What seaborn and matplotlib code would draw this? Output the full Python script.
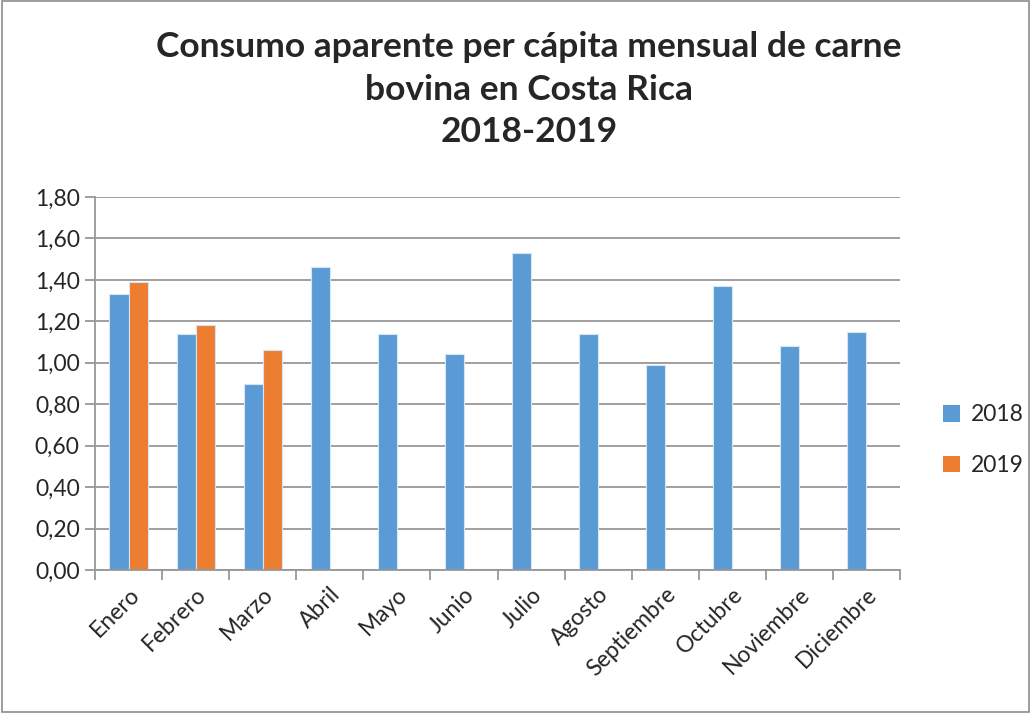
import matplotlib
matplotlib.use("Agg")
import matplotlib.pyplot as plt
from matplotlib.patches import Rectangle, Patch
from matplotlib.ticker import FuncFormatter, FixedLocator
import seaborn as sns
import pandas as pd

months = ["Enero", "Febrero", "Marzo", "Abril", "Mayo", "Junio", "Julio",
          "Agosto", "Septiembre", "Octubre", "Noviembre", "Diciembre"]
values_2018 = [1.33, 1.14, 0.90, 1.46, 1.14, 1.04, 1.53, 1.14, 0.99, 1.37, 1.08, 1.15]
values_2019 = [1.39, 1.18, 1.06]
years = ["2018", "2019"]
colors = ["#5B9BD5", "#ED7D31"]

rows = [{"Mes": m, "Año": "2018", "Valor": v} for m, v in zip(months, values_2018)]
rows += [{"Mes": m, "Año": "2019", "Valor": v} for m, v in zip(months, values_2019)]
df = pd.DataFrame(rows)

sns.set_style("white")
plt.rcParams["font.family"] = ["Lato", "DejaVu Sans"]

fig = plt.figure(figsize=(10.31, 7.13), dpi=100)
ax = fig.add_axes([95 / 1031, 1 - 570 / 713, 805 / 1031, 373 / 713])

sns.barplot(data=df, x="Mes", y="Valor", hue="Año", order=months,
            hue_order=years, palette=colors, width=0.57, ax=ax,
            edgecolor="#D6E4F3", linewidth=0.8, saturation=1, legend=False)

ax.set_ylim(0, 1.8)
ax.set_xlim(-0.5, len(months) - 0.5)
ax.yaxis.set_major_locator(FixedLocator([i * 0.2 for i in range(10)]))
ax.yaxis.set_major_formatter(FuncFormatter(lambda v, p: f"{v:.2f}".replace(".", ",")))
ax.grid(axis="y", color="#979797", linewidth=1.3)
ax.set_axisbelow(True)
for side in ["top", "right"]:
    ax.spines[side].set_visible(False)
for side in ["left", "bottom"]:
    ax.spines[side].set_color("#979797")
    ax.spines[side].set_linewidth(1.3)

ax.set_xlabel("")
ax.set_ylabel("")
ax.tick_params(axis="y", labelsize=16.5, length=7, width=1.3, color="#979797",
               direction="out", left=True, pad=4)
ax.set_xticks(range(len(months)))
ax.set_xticklabels(months, rotation=45, ha="right", rotation_mode="anchor", fontsize=16.5)
ax.tick_params(axis="x", length=0, pad=10)
ax.set_xticks([i - 0.5 for i in range(len(months) + 1)], minor=True)
ax.tick_params(axis="x", which="minor", length=7, width=1.3, color="#979797",
               direction="out", bottom=True)

fig.text(0.513, 0.957, "Consumo aparente per cápita mensual de carne\nbovina en Costa Rica\n2018-2019",
         ha="center", va="top", fontsize=25.5, fontweight="bold", linespacing=1.42)

handles = [Patch(facecolor=c, edgecolor="none") for c in colors]
fig.legend(handles, years, loc="center left", bbox_to_anchor=(922 / 1031, 1 - 440 / 713),
           frameon=False, fontsize=16.5, handlelength=0.75, handleheight=0.75,
           labelspacing=1.3, handletextpad=0.5)

fig.patches.append(Rectangle((0.002, 0.002), 0.996, 0.996, transform=fig.transFigure,
                             fill=False, edgecolor="#8C8C8C", linewidth=1.2))

fig.savefig("out.png", dpi=100)
